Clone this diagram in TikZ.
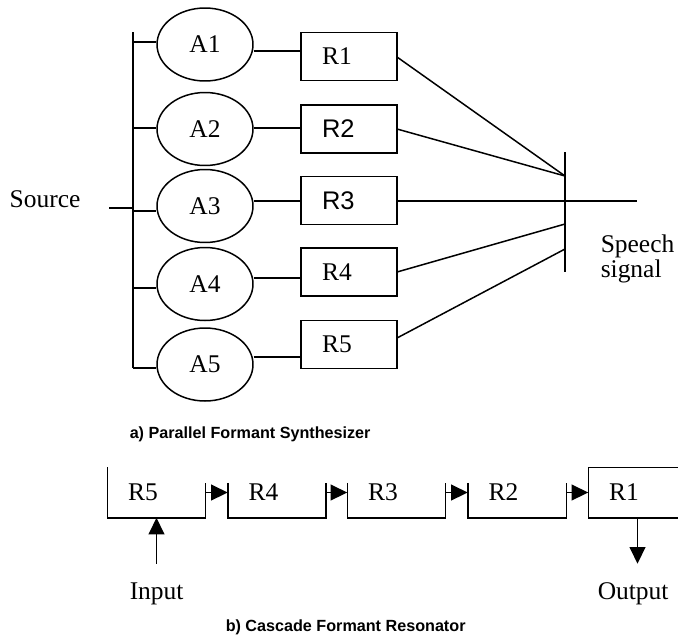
\documentclass[tikz,border=0pt]{standalone}
\usepackage{fontspec}
\setmainfont{Liberation Serif}
\newfontfamily\arialfont{Liberation Sans}
\usetikzlibrary{shapes.geometric}
\usetikzlibrary{arrows.meta}
\usetikzlibrary{calc}

\begin{document}
\begin{tikzpicture}[x=0.02cm, y=-0.02cm, line width=0.85pt,
	font=\fontsize{14.5}{17}\selectfont,
	amp/.style={ellipse, draw, minimum width=1.92cm, minimum height=1.46cm, inner sep=0pt},
	res/.style={rectangle, draw, minimum height=0.96cm, text width=1.08cm, inner xsep=0.42cm, inner ysep=0pt, align=left},
	cres/.style={rectangle, minimum height=0.98cm, text width=1.14cm, inner xsep=0.4cm, inner ysep=0pt, align=left},
	lbl/.style={anchor=base west, inner sep=0pt},
	figcap/.style={lbl, font=\arialfont\bfseries\fontsize{9.2}{11}\selectfont},
	flow/.style={-{Triangle[length=9.5pt, width=9pt]}},
	bar/.style={line width=1.4pt}]
	\useasboundingbox (0,0) rectangle (678,643);
	\clip (0,0) rectangle (678,643);

	\draw [bar] (133,32) coordinate (bustop) -- (133,368) coordinate (busbot);
	\draw [bar] (565,152) coordinate (bartop) -- (565,272) coordinate (barbot);

	\foreach \i/\ya/\yr/\fn/\ys/\yl/\yf/\yj in {1/44.5/56.5/\rmfamily/42/51/57/176, 2/129/129/\arialfont/128/128/129/176, 3/206/200.5/\arialfont/211/201/201/201, 4/284/272/\rmfamily/288/278/272/224, 5/364.5/344.5/\rmfamily/368/357/338/249}{
		\node [amp] (A\i) at (205, \ya) {A\i};
		\node [res] (R\i) at (349, \yr) {\fn R\i};
		\coordinate (s\i) at (133, \ys);
		\coordinate (l\i) at (253, \yl);
		\coordinate (f\i) at (397, \yf);
		\coordinate (j\i) at (565, \yj);
		\draw (s\i) -- (s\i -| A\i.west);
		\draw (l\i -| A\i.east) -- (l\i -| R\i.west);
		\draw (f\i) -- (j\i);
	}
	\draw (j3) -- (637, 201) coordinate (sigend);

	\node [lbl] (src) at (9, 207) {Source};
	\coordinate (srcin) at (109, 208);
	\draw (srcin) -- (srcin -| bustop);
	\node [lbl, anchor=north west, align=left, font=\fontsize{14.5}{14.2}\selectfont] (speech) at (600, 234.5) {Speech\\signal};
	\node [figcap] (capa) at (129, 438) {a) Parallel Formant Synthesizer};

	\foreach \i/\x in {5/156.5, 4/277, 3/396.5, 2/517, 1/637.5}
		\node [cres] (C\i) at (\x, 492.5) {R\i};
	\foreach \i in {4, 3, 2}
		\draw ($(C\i.south west)+(0,-35)$) -- (C\i.south west) -- (C\i.south east) -- ($(C\i.south east)+(0,-35)$);
	\draw (C5.north west) -- (C5.south west) -- (C5.south east) -- ++(0,-35);
	\draw (C1.north west) rectangle (C1.south east);
	\foreach \a/\b in {5/4, 4/3, 3/2, 2/1}
		\draw [flow] (C\a.east) -- (C\b.west);

	\path (C5.south) ++(0, 46) coordinate (infoot);
	\draw [flow] (infoot) -- (C5.south);
	\draw [flow] (C1.south) -- ++(0, 46) coordinate (outfoot);
	\node [lbl] (input) at (129, 599) {Input};
	\node [lbl] (output) at (597, 599) {Output};
	\node [figcap] (capb) at (225, 631) {b) Cascade Formant Resonator};

\end{tikzpicture}
\end{document}
